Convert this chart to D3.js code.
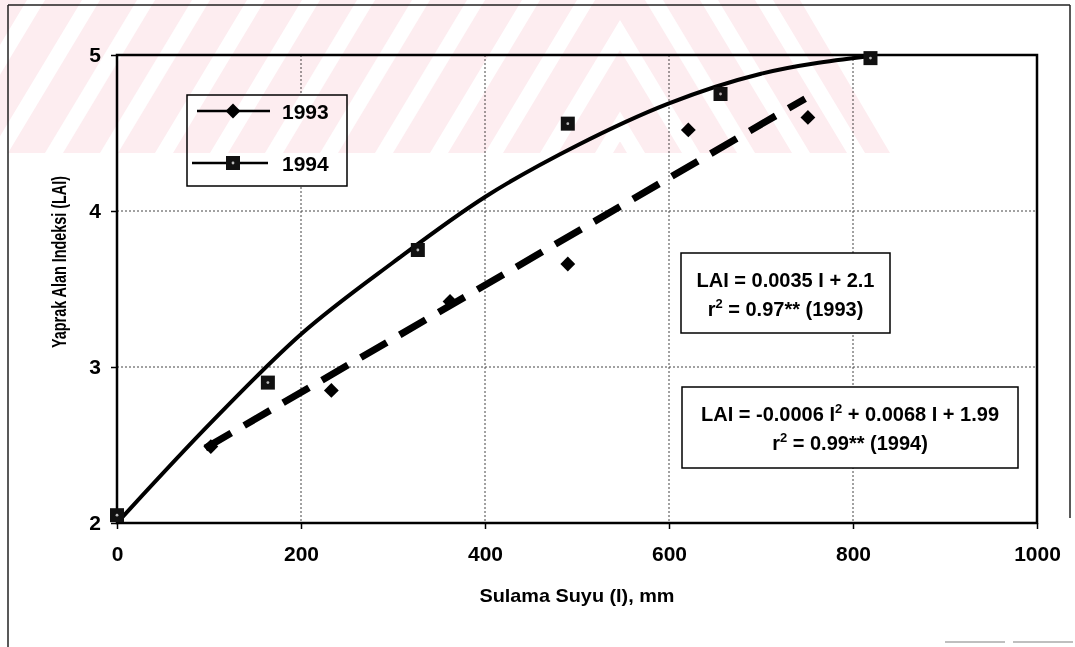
<html>
<head>
<meta charset="utf-8">
<title>Yaprak Alan Indeksi</title>
<script src="https://d3js.org/d3.v7.min.js"></script>
<style>
	body { margin: 0; background: #fff; }
	text { font-family: "Liberation Sans", Arial, sans-serif; fill: #000; }
</style>
</head>
<body>
<svg id="chart" width="1075" height="647"></svg>
<script>
	// values
	const xTicks = [0, 200, 400, 600, 800, 1000];
	const yTicks = [2, 3, 4, 5];
	const seriesNames = ["1993", "1994"];
	const water1993 = [102, 233, 362, 490, 621, 751];
	const lai1993 = [2.49, 2.85, 3.42, 3.66, 4.52, 4.60];
	const water1994 = [0, 164, 327, 490, 656, 819];
	const lai1994 = [2.05, 2.90, 3.75, 4.56, 4.75, 4.98];
	// trend lines as drawn in the figure
	const fitWater1993 = [96, 748];
	const fitLai1993 = [2.48, 4.72];
	const fitWater1994 = [0, 100, 200, 300, 400, 500, 600, 700, 815];
	const fitLai1994 = [2.0, 2.63, 3.21, 3.67, 4.09, 4.42, 4.69, 4.88, 4.99];

	const svg = d3.select('#chart');
	const x = d3.scaleLinear().domain([0, 1000]).range([117, 1037]);
	const y = d3.scaleLinear().domain([2, 5]).range([523, 55]);

	// outer frame (page border of the scan)
	svg.append('line').attr('x1', 8).attr('x2', 1070).attr('y1', 5).attr('y2', 5)
		.attr('stroke', '#222').attr('stroke-width', 1.5);
	svg.append('line').attr('x1', 8).attr('x2', 8).attr('y1', 5).attr('y2', 647)
		.attr('stroke', '#222').attr('stroke-width', 1.5);
	svg.append('line').attr('x1', 1070).attr('x2', 1070).attr('y1', 5).attr('y2', 518)
		.attr('stroke', '#222').attr('stroke-width', 1.5);
	svg.append('line').attr('x1', 945).attr('x2', 1075).attr('y1', 642).attr('y2', 642)
		.attr('stroke', '#aaa').attr('stroke-width', 1.5).attr('stroke-dasharray', '60,8');

	// grid
	const grid = svg.append('g').attr('stroke', '#444').attr('stroke-width', 1).attr('stroke-dasharray', '2,2');
	grid.selectAll('.vx').data(xTicks.slice(1, -1)).enter().append('line')
		.attr('x1', d => x(d)).attr('x2', d => x(d)).attr('y1', y(5)).attr('y2', y(2));
	grid.selectAll('.hy').data(yTicks.slice(1, -1)).enter().append('line')
		.attr('x1', x(0)).attr('x2', x(1000)).attr('y1', d => y(d)).attr('y2', d => y(d));

	// axes
	svg.append('g')
		.attr('transform', 'translate(0,' + y(2) + ')')
		.call(d3.axisBottom(x).tickValues(xTicks).tickFormat(d3.format('d')).tickSize(6).tickPadding(17).tickSizeOuter(0))
		.call(g => g.select('.domain').remove())
		.call(g => g.selectAll('line').attr('stroke', '#000').attr('stroke-width', 1.5))
		.call(g => g.selectAll('text').style('font-size', '21px').style('font-weight', 'bold')
			.style('font-family', '"Liberation Sans", Arial, sans-serif'));
	svg.append('g')
		.attr('transform', 'translate(' + x(0) + ',0)')
		.call(d3.axisLeft(y).tickValues(yTicks).tickFormat(d3.format('d')).tickSize(6).tickPadding(10).tickSizeOuter(0))
		.call(g => g.select('.domain').remove())
		.call(g => g.selectAll('line').attr('stroke', '#000').attr('stroke-width', 1.5))
		.call(g => g.selectAll('text').style('font-size', '21px').style('font-weight', 'bold')
			.style('font-family', '"Liberation Sans", Arial, sans-serif'));

	// plot border
	svg.append('rect')
		.attr('x', x(0)).attr('y', y(5)).attr('width', x(1000) - x(0)).attr('height', y(2) - y(5))
		.attr('fill', 'none').attr('stroke', '#000').attr('stroke-width', 2.5);

	// axis titles
	svg.append('text')
		.attr('x', (x(0) + x(1000)) / 2).attr('y', 602)
		.attr('text-anchor', 'middle').style('font-size', '19px').style('font-weight', 'bold')
		.attr('textLength', 195).attr('lengthAdjust', 'spacingAndGlyphs')
		.text('Sulama Suyu (I), mm');
	svg.append('text')
		.attr('transform', 'translate(66,262) rotate(-90)')
		.attr('text-anchor', 'middle').style('font-size', '20px').style('font-weight', 'bold')
		.attr('textLength', 172).attr('lengthAdjust', 'spacingAndGlyphs')
		.text('Yaprak Alan Indeksi (LAI)');

	// trend lines
	const line = d3.line().x(d => x(d[0])).y(d => y(d[1]));
	svg.append('path')
		.datum(fitWater1993.map((w, i) => [w, fitLai1993[i]]))
		.attr('d', line)
		.attr('fill', 'none').attr('stroke', '#000').attr('stroke-width', 7)
		.attr('stroke-dasharray', '30,15');
	svg.append('path')
		.datum(fitWater1994.map((w, i) => [w, fitLai1994[i]]))
		.attr('d', line.curve(d3.curveMonotoneX))
		.attr('fill', 'none').attr('stroke', '#000').attr('stroke-width', 4);

	// markers
	const diamond = d3.symbol().type(d3.symbolSquare).size(110);
	svg.append('g').selectAll('path')
		.data(water1993.map((w, i) => [w, lai1993[i]])).enter().append('path')
		.attr('d', diamond)
		.attr('transform', d => 'translate(' + x(d[0]) + ',' + y(d[1]) + ') rotate(45)')
		.attr('fill', '#000');
	const sq = svg.append('g').selectAll('g')
		.data(water1994.map((w, i) => [w, lai1994[i]])).enter().append('g')
		.attr('transform', d => 'translate(' + x(d[0]) + ',' + y(d[1]) + ')');
	sq.append('rect').attr('x', -7).attr('y', -7).attr('width', 14).attr('height', 14).attr('fill', '#111');
	sq.append('circle').attr('r', 1.4).attr('fill', '#bbb');

	// legend
	const leg = svg.append('g');
	leg.append('rect').attr('x', 187).attr('y', 95).attr('width', 160).attr('height', 91)
		.attr('fill', '#fff').attr('stroke', '#000').attr('stroke-width', 1.5);
	leg.append('line').attr('x1', 197).attr('x2', 270).attr('y1', 111).attr('y2', 111)
		.attr('stroke', '#000').attr('stroke-width', 2.5);
	leg.append('path').attr('d', diamond).attr('transform', 'translate(233,111) rotate(45)').attr('fill', '#000');
	leg.append('line').attr('x1', 192).attr('x2', 268).attr('y1', 163).attr('y2', 163)
		.attr('stroke', '#000').attr('stroke-width', 2.5);
	leg.append('rect').attr('x', 226).attr('y', 156).attr('width', 14).attr('height', 14).attr('fill', '#111');
	leg.append('circle').attr('cx', 233).attr('cy', 163).attr('r', 1.4).attr('fill', '#bbb');
	leg.selectAll('.lt').data(seriesNames).enter().append('text')
		.attr('x', 282).attr('y', (d, i) => i === 0 ? 118.5 : 171)
		.style('font-size', '21px').style('font-weight', 'bold')
		.text(d => d);

	// equation boxes
	function eqBox(bx, by, bw, bh, lines) {
		const g = svg.append('g');
		g.append('rect').attr('x', bx).attr('y', by).attr('width', bw).attr('height', bh)
			.attr('fill', '#fff').attr('stroke', '#000').attr('stroke-width', 1.5);
		lines.forEach((parts, i) => {
			const t = g.append('text').attr('x', bx + bw / 2).attr('y', by + 34 + i * 29)
				.attr('text-anchor', 'middle').style('font-size', '20px').style('font-weight', 'bold');
			parts.forEach(p => {
				if (typeof p === 'string') {
					t.append('tspan').text(p);
				} else {
					t.append('tspan').attr('dy', -8).style('font-size', '13px').text(p.sup);
					t.append('tspan').attr('dy', 8).text(p.after);
				}
			});
		});
	}
	eqBox(681, 253, 209, 80, [
		['LAI = 0.0035 I + 2.1'],
		['r', { sup: '2', after: ' = 0.97** (1993)' }]
	]);
	eqBox(682, 387, 336, 81, [
		['LAI = -0.0006 I', { sup: '2', after: ' + 0.0068 I + 1.99' }],
		['r', { sup: '2', after: ' = 0.99** (1994)' }]
	]);

	// pink scan watermark along the top
	const wm = svg.append('g').style('mix-blend-mode', 'multiply');
	const bandH = 153;
	wm.append('rect').attr('x', 0).attr('y', 0).attr('width', 1075).attr('height', bandH).attr('fill', '#fdedf0');
	const defs = svg.append('defs');
	defs.append('clipPath').attr('id', 'leftHalf').append('rect').attr('x', 0).attr('y', 0).attr('width', 620).attr('height', bandH);
	const stripes = [];
	for (let s = -120; s < 640; s += 55) stripes.push(s);
	['', 'translate(1240,0) scale(-1,1)'].forEach(tr => {
		wm.append('g').attr('transform', tr).append('g').attr('clip-path', 'url(#leftHalf)')
			.selectAll('path').data(stripes).enter().append('path')
			.attr('d', s => 'M' + s + ',' + bandH + ' L' + (s + 18) + ',' + bandH + ' L' + (s + 110) + ',0 L' + (s + 92) + ',0 Z')
			.attr('fill', '#fff');
	});
	wm.append('path').attr('d', 'M800,0 L890,' + bandH + ' L1075,' + bandH + ' L1075,0 Z').attr('fill', '#fff');
</script>
</body>
</html>
